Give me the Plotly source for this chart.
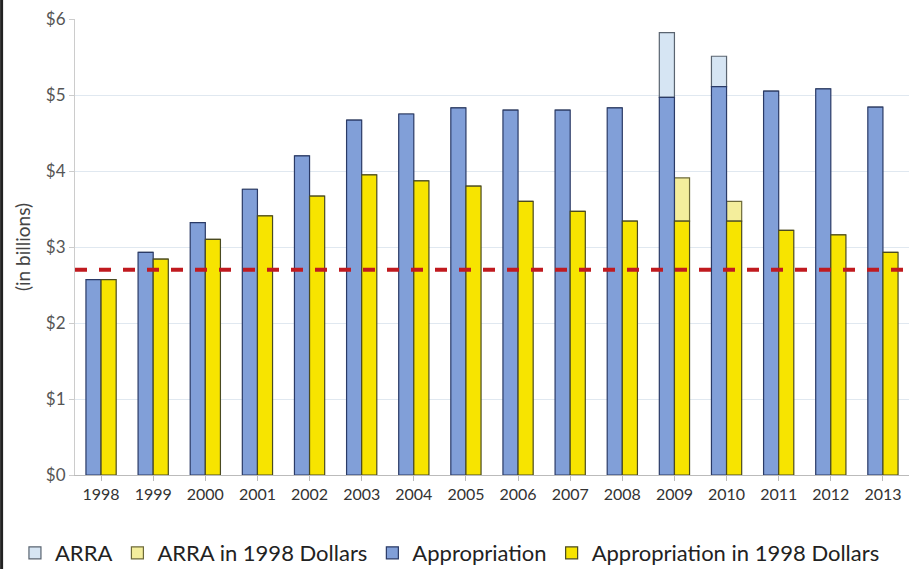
import plotly.graph_objects as go

years = ["1998","1999","2000","2001","2002","2003","2004","2005","2006","2007","2008","2009","2010","2011","2012","2013"]
appropriation = [2.57,2.93,3.32,3.76,4.20,4.67,4.75,4.83,4.80,4.80,4.83,4.97,5.11,5.05,5.08,4.84]
approp_1998 = [2.57,2.84,3.10,3.41,3.67,3.95,3.87,3.80,3.60,3.47,3.34,3.34,3.34,3.22,3.16,2.93]
arra = [0,0,0,0,0,0,0,0,0,0,0,0.85,0.40,0,0,0]
arra_1998 = [0,0,0,0,0,0,0,0,0,0,0,0.57,0.26,0,0,0]
baseline = 2.70
y_ticks = [0,1,2,3,4,5,6]
y_tick_labels = ["$0","$1","$2","$3","$4","$5","$6"]

fig = go.Figure()
fig.add_trace(go.Bar(name="ARRA", x=years, y=arra, base=appropriation, offsetgroup="a",
                     marker=dict(color="#d6e5f3", line=dict(color="#5a6470", width=1.2))))
fig.add_trace(go.Bar(name="ARRA in 1998 Dollars", x=years, y=arra_1998, base=approp_1998, offsetgroup="b",
                     marker=dict(color="#f4ee9c", line=dict(color="#6d6a3a", width=1.2))))
fig.add_trace(go.Bar(name="Appropriation", x=years, y=appropriation, offsetgroup="a",
                     marker=dict(color="#819fd8", line=dict(color="#2a3a66", width=1.2))))
fig.add_trace(go.Bar(name="Appropriation in 1998 Dollars", x=years, y=approp_1998, offsetgroup="b",
                     marker=dict(color="#f7e400", line=dict(color="#4a4a20", width=1.2))))

fig.add_shape(type="line", xref="paper", yref="y", x0=0, x1=1, y0=baseline, y1=baseline,
              line=dict(color="#c01a1f", width=4, dash="dash"))
fig.add_shape(type="line", xref="paper", yref="paper", x0=-0.088, x1=-0.088, y0=-0.21, y1=1.05,
              line=dict(color="#222222", width=3))

fig.update_layout(
    width=913, height=569,
    margin=dict(l=75, r=4, t=19, b=94, autoexpand=False),
    plot_bgcolor="white", paper_bgcolor="white",
    barmode="group", bargap=0.42, bargroupgap=0,
    font=dict(family="Lato, Open Sans, sans-serif", color="#444444"),
    legend=dict(orientation="h", x=-0.072, y=-0.125, xanchor="left", yanchor="top",
                font=dict(size=22, color="#222222"), traceorder="normal",
                itemwidth=30, tracegroupgap=0),
    showlegend=True,
)
fig.update_xaxes(showline=True, linecolor="#bbbbbb", ticks="outside", tickcolor="#bbbbbb",
                 ticklen=5, tickfont=dict(size=16, color="#333333"), showgrid=False)
fig.update_yaxes(range=[0,6], tickvals=y_ticks, ticktext=y_tick_labels,
                 tickfont=dict(size=17, color="#555555"), showgrid=True, gridcolor="#e0e8f0",
                 showline=True, linecolor="#cccccc", ticks="outside", tickcolor="#cccccc", ticklen=5,
                 title=dict(text="(in billions)", font=dict(size=19, color="#444444"), standoff=10),
                 zeroline=False)

fig.write_html("out.html")
